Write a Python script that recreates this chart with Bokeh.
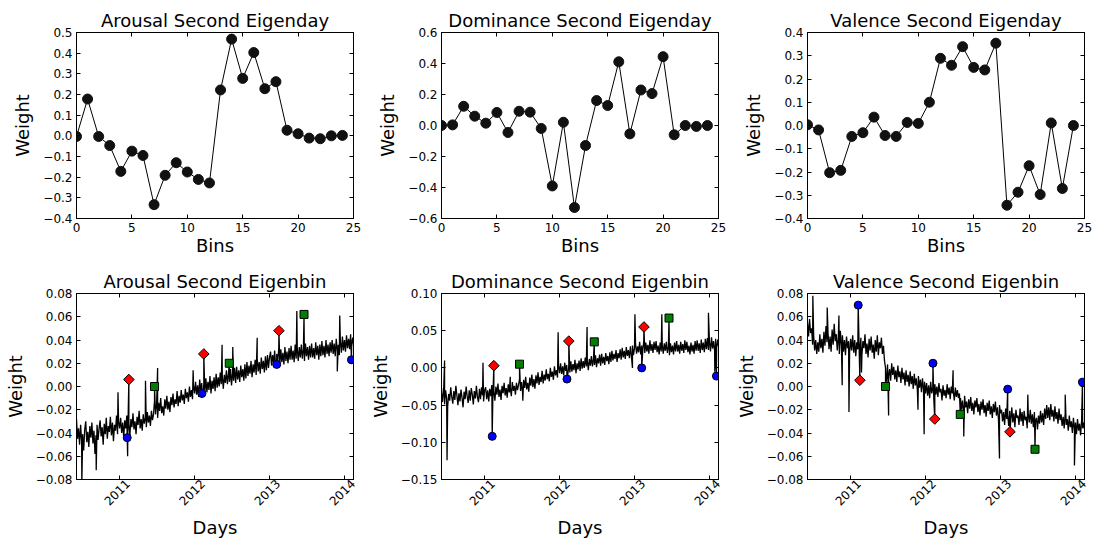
import math
import pandas as pd
from bokeh.plotting import figure
from bokeh.layouts import column, row
from bokeh.models import (Range1d, FixedTicker, LinearAxis, DatetimeAxis,
                          CustomJSTickFormatter, DatetimeTickFormatter)
from bokeh.embed import file_html
from bokeh.resources import INLINE

FONT = "DejaVu Sans"

# ---------------- top row data: second eigenday weights per bin ----------------
bins = list(range(25))
arousal_day = [-0.003, 0.178, -0.003, -0.047, -0.172, -0.074, -0.095, -0.333, -0.191, -0.130,
               -0.175, -0.211, -0.228, 0.222, 0.468, 0.278, 0.403, 0.228, 0.262, 0.027,
               0.010, -0.011, -0.014, 0.000, 0.002]
dominance_day = [0.000, 0.004, 0.124, 0.060, 0.015, 0.084, -0.045, 0.092, 0.086, -0.019,
                 -0.390, 0.021, -0.529, -0.129, 0.161, 0.129, 0.411, -0.054, 0.229, 0.206,
                 0.444, -0.060, 0.000, -0.006, 0.000]
valence_day = [0.003, -0.019, -0.203, -0.193, -0.047, -0.031, 0.036, -0.043, -0.047, 0.013,
               0.009, 0.100, 0.289, 0.259, 0.339, 0.250, 0.239, 0.354, -0.343, -0.287,
               -0.173, -0.297, 0.011, -0.271, 0.000]

# ---------------- bottom row data: second eigenbin weights over days ----------------
# values read every 5 days starting 2010-06-04
series_start = "2010-06-04"
series_step = "5D"
arousal_bin = [
    -0.028, -0.045, -0.036, -0.050, -0.033, -0.047, -0.041, -0.055, -0.037, -0.030,
    -0.048, -0.039, -0.052, -0.034, -0.044, -0.031, -0.049, -0.038, -0.058, -0.042,
    -0.033, -0.046, -0.036, -0.029, -0.043, -0.035, -0.050, -0.032, -0.041, -0.027,
    -0.045, -0.034, -0.039, -0.026, -0.042, -0.031, -0.047, -0.033, -0.038, -0.025,
    -0.041, -0.030, -0.036,
    -0.027, -0.040, -0.031, -0.044, -0.029, -0.036, -0.025, -0.039, -0.032, -0.042,
    -0.028, -0.035, -0.023, -0.037, -0.030, -0.041, -0.026, -0.033, -0.021, -0.036,
    -0.028, -0.038, -0.024, -0.032, -0.027, -0.035, -0.022, -0.031, -0.025, -0.034,
    -0.021, -0.029, -0.024,
    -0.012, -0.024, -0.016, -0.027, -0.014, -0.021, -0.010, -0.023, -0.017, -0.025,
    -0.011, -0.019, -0.008, -0.020, -0.013, -0.022, -0.009, -0.016, -0.006, -0.018,
    -0.011, -0.015, -0.004, -0.017, -0.008, -0.014, -0.003, -0.012, -0.007, -0.015,
    -0.002, -0.010, -0.005, -0.013, 0.000, -0.009, -0.003, -0.011, 0.001, -0.006,
    0.004, -0.007, 0.001, -0.009, 0.006, -0.004, 0.003, -0.008, 0.002, -0.005,
    0.007, -0.005, 0.004, -0.003, 0.009, -0.006, 0.005, -0.002, 0.008, -0.004,
    0.011, -0.001, 0.008, 0.000, 0.012, 0.002, 0.009, -0.002, 0.010, 0.003,
    0.014, 0.002, 0.011, 0.004, 0.015, 0.001, 0.012, 0.005, 0.016, 0.003,
    0.017, 0.006, 0.014, 0.004, 0.018, 0.008, 0.015, 0.005, 0.019, 0.007,
    0.021, 0.009, 0.018, 0.011, 0.022, 0.008, 0.019, 0.012, 0.023, 0.010,
    0.024, 0.013, 0.021, 0.011, 0.025, 0.015, 0.022, 0.012, 0.026, 0.014,
    0.027, 0.016, 0.025,
    0.030, 0.018, 0.027, 0.020, 0.031, 0.017, 0.028, 0.021, 0.033, 0.019,
    0.032, 0.021, 0.029, 0.019, 0.034, 0.022, 0.030, 0.020, 0.033, 0.023,
    0.035, 0.023, 0.031, 0.021, 0.036, 0.024, 0.033, 0.022, 0.034, 0.025,
    0.036, 0.024, 0.032, 0.022, 0.037, 0.026, 0.034, 0.023, 0.035, 0.025,
    0.037, 0.025, 0.033, 0.024, 0.038, 0.027, 0.035, 0.023, 0.036, 0.026,
    0.039, 0.027, 0.035, 0.025, 0.040, 0.028, 0.036, 0.026, 0.038, 0.029,
    0.040, 0.028, 0.037, 0.026, 0.041, 0.030, 0.036, 0.027, 0.039, 0.029,
    0.043, 0.031, 0.040, 0.030, 0.044, 0.033, 0.041, 0.032, 0.045, 0.034,
    0.042, 0.036]
dominance_bin = [
    -0.027, -0.046, -0.033, -0.049, -0.030, -0.041, -0.052, -0.035, -0.044, -0.026,
    -0.039, -0.048, -0.031, -0.043, -0.024, -0.037, -0.050, -0.034, -0.045, -0.029,
    -0.040, -0.053, -0.032, -0.042, -0.025, -0.038, -0.047, -0.030, -0.044, -0.027,
    -0.036, -0.049, -0.031, -0.041, -0.024, -0.039, -0.046, -0.028, -0.042, -0.026,
    -0.037, -0.045, -0.030,
    -0.026, -0.042, -0.030, -0.045, -0.028, -0.038, -0.023, -0.040, -0.031, -0.044,
    -0.025, -0.036, -0.021, -0.039, -0.029, -0.043, -0.024, -0.034, -0.020, -0.037,
    -0.027, -0.040, -0.022, -0.033, -0.026, -0.038, -0.019, -0.031, -0.024, -0.036,
    -0.020, -0.030, -0.023,
    -0.015, -0.031, -0.019, -0.034, -0.016, -0.027, -0.012, -0.029, -0.020, -0.032,
    -0.013, -0.024, -0.009, -0.026, -0.015, -0.028, -0.010, -0.021, -0.006, -0.023,
    -0.012, -0.019, -0.004, -0.021, -0.009, -0.017, -0.002, -0.015, -0.008, -0.018,
    0.000, -0.012, -0.005, -0.016, 0.002, -0.010, -0.003, -0.013, 0.003, -0.007,
    0.006, -0.008, 0.002, -0.010, 0.007, -0.004, 0.004, -0.009, 0.003, -0.006,
    0.009, -0.005, 0.005, -0.003, 0.011, -0.007, 0.006, -0.002, 0.010, -0.004,
    0.013, -0.001, 0.009, 0.000, 0.014, 0.002, 0.010, -0.003, 0.012, 0.003,
    0.016, 0.002, 0.012, 0.004, 0.017, 0.001, 0.013, 0.006, 0.018, 0.003,
    0.019, 0.006, 0.015, 0.004, 0.020, 0.009, 0.016, 0.005, 0.021, 0.008,
    0.023, 0.010, 0.019, 0.012, 0.024, 0.008, 0.020, 0.013, 0.025, 0.011,
    0.027, 0.014, 0.023, 0.012, 0.028, 0.016, 0.024, 0.013, 0.029, 0.015,
    0.030, 0.017, 0.027,
    0.033, 0.019, 0.029, 0.021, 0.035, 0.018, 0.030, 0.022, 0.036, 0.020,
    0.034, 0.022, 0.031, 0.019, 0.037, 0.023, 0.032, 0.020, 0.035, 0.024,
    0.036, 0.021, 0.030, 0.018, 0.034, 0.022, 0.031, 0.019, 0.033, 0.023,
    0.035, 0.020, 0.029, 0.017, 0.033, 0.021, 0.030, 0.018, 0.034, 0.022,
    0.036, 0.022, 0.031, 0.019, 0.035, 0.023, 0.032, 0.020, 0.037, 0.024,
    0.035, 0.021, 0.030, 0.018, 0.034, 0.022, 0.031, 0.019, 0.036, 0.023,
    0.037, 0.023, 0.033, 0.020, 0.038, 0.024, 0.034, 0.021, 0.039, 0.025,
    0.040, 0.024, 0.035, 0.022, 0.041, 0.026, 0.036, 0.023, 0.039, 0.027,
    0.038, 0.028]
valence_bin = [
    0.055, 0.043, 0.058, 0.046, 0.050, 0.036, 0.044, 0.031, 0.040, 0.028,
    0.038, 0.030, 0.045, 0.033, 0.041, 0.029, 0.047, 0.035, 0.052, 0.038,
    0.046, 0.032, 0.043, 0.030, 0.049, 0.036, 0.054, 0.039, 0.045, 0.031,
    0.042, 0.028, 0.048, 0.035, 0.044, 0.030, 0.040, 0.027, 0.043, 0.033,
    0.039, 0.029, 0.041,
    0.031, 0.044, 0.029, 0.040, 0.026, 0.038, 0.032, 0.046, 0.030, 0.042,
    0.027, 0.039, 0.033, 0.045, 0.028, 0.037, 0.025, 0.041, 0.031, 0.043,
    0.029, 0.036, 0.024, 0.040, 0.030, 0.044, 0.027, 0.038, 0.033, 0.042,
    0.028, 0.035, 0.022,
    0.016, 0.007, 0.019, 0.009, 0.015, 0.005, 0.020, 0.010, 0.017, 0.006,
    0.014, 0.004, 0.018, 0.008, 0.013, 0.003, 0.016, 0.006, 0.012, 0.001,
    0.014, 0.004, 0.010, 0.000, 0.013, 0.002, 0.009, -0.002, 0.011, 0.001,
    0.007, -0.003, 0.009, -0.001, 0.006, -0.005, 0.007, -0.003, 0.004, -0.006,
    0.003, -0.008, 0.001, -0.010, 0.004, -0.006, -0.001, -0.011, 0.002, -0.007,
    0.000, -0.009, 0.003, -0.005, -0.002, -0.012, 0.001, -0.008, -0.003, -0.010,
    0.002, -0.007, -0.001, -0.011, 0.000, -0.006, -0.004, -0.012, -0.001, -0.009,
    -0.003, -0.010, -0.006,
    -0.010, -0.020, -0.012, -0.022, -0.008, -0.018, -0.013, -0.023, -0.011, -0.019,
    -0.009, -0.021, -0.014, -0.024, -0.012, -0.018, -0.010, -0.022, -0.015, -0.025,
    -0.013, -0.020, -0.011, -0.023, -0.016, -0.026, -0.014, -0.021, -0.012, -0.024,
    -0.017, -0.027, -0.015, -0.022, -0.013, -0.025, -0.018, -0.028, -0.016, -0.023,
    -0.020, -0.030, -0.022, -0.033, -0.019, -0.028, -0.024, -0.034, -0.021, -0.029,
    -0.018, -0.031, -0.023, -0.035, -0.020, -0.027, -0.025, -0.033, -0.019, -0.030,
    -0.022, -0.034, -0.021, -0.029, -0.026, -0.036, -0.023, -0.031, -0.020, -0.032,
    -0.024, -0.035, -0.022, -0.030, -0.027, -0.037, -0.025, -0.032, -0.021, -0.031,
    -0.023, -0.033, -0.019, -0.028, -0.016, -0.027, -0.018, -0.029, -0.015, -0.026,
    -0.020, -0.030, -0.017, -0.028, -0.022, -0.032, -0.019, -0.029, -0.024, -0.034,
    -0.026, -0.036, -0.023, -0.033, -0.028, -0.038, -0.025, -0.035, -0.030, -0.040,
    -0.027, -0.037, -0.031, -0.041, -0.028, -0.038, -0.032, -0.042, -0.029, -0.036,
    -0.031, -0.038]

# isolated single-day spikes (date, value)
arousal_spike_dates = ["2010-06-30", "2010-09-08", "2010-12-23", "2011-02-08", "2011-05-06",
                       "2011-07-04", "2011-12-24", "2012-05-13", "2012-07-04", "2012-10-31",
                       "2013-05-12", "2013-11-25", "2013-12-07"]
arousal_spike_vals = [-0.085, -0.072, -0.005, -0.060, 0.005, 0.016, 0.014, 0.036, 0.034,
                      0.042, 0.065, 0.013, 0.061]
dominance_spike_dates = ["2010-06-19", "2010-07-01", "2010-12-23", "2011-05-05", "2011-07-05",
                         "2011-12-24", "2012-05-13", "2012-12-20", "2013-01-01", "2013-05-12",
                         "2013-12-25", "2014-01-25"]
dominance_spike_vals = [0.010, -0.124, 0.007, -0.012, -0.044, 0.048, 0.055, 0.000, 0.072,
                        0.072, 0.074, -0.005]
valence_spike_dates = ["2010-06-30", "2010-09-08", "2010-11-04", "2010-11-20", "2010-12-23",
                       "2011-02-22", "2011-07-04", "2011-11-24", "2011-12-24", "2012-05-13",
                       "2012-07-04", "2012-12-25", "2013-05-12", "2013-11-10", "2013-12-25"]
valence_spike_vals = [0.078, 0.068, 0.061, 0.001, -0.022, 0.012, -0.025, -0.020, -0.041,
                      0.014, -0.043, -0.062, -0.007, -0.007, -0.068]

# special days
superbowl_dates = ["2011-02-06", "2012-02-05", "2013-02-03", "2014-02-02"]
valentine_dates = ["2011-02-14", "2012-02-14", "2013-02-14"]
fathers_dates = ["2011-06-19", "2012-06-17", "2013-06-16"]
arousal_sb = [-0.044, -0.006, 0.019, 0.023]
arousal_vd = [0.006, 0.028, 0.048]
arousal_fd = [0.000, 0.020, 0.062]
dominance_sb = [-0.092, -0.015, 0.000, -0.011]
dominance_vd = [0.003, 0.036, 0.055]
dominance_fd = [0.005, 0.035, 0.067]
valence_sb = [0.070, 0.020, -0.0023, 0.0037]
valence_vd = [0.0054, -0.028, -0.039]
valence_fd = [0.000, -0.024, -0.054]

year_ticks = [2011, 2012, 2013, 2014]
x_start = "2010-06-04"
x_end = "2014-02-12"
# Bokeh right-aligns 45-degree labels at their anchor; anchoring each year label
# this far to the right of its tick centres the rotated text under the tick
label_shift = pd.Timedelta(days=39)


def yfmt(digits):
    return CustomJSTickFormatter(code="""
        const v = Math.abs(tick) < 1e-9 ? 0 : tick;
        return v.toFixed(%d).replace('-', '\\u2212');
    """ % digits)


def hide_labels(ax):
    ax.major_label_text_font_size = "1px"
    ax.major_label_text_color = None
    ax.major_label_standoff = 0


def text_style(ax):
    ax.major_label_text_font = FONT
    ax.major_label_text_font_size = "12px"
    ax.major_label_text_color = "black"
    ax.axis_label_text_font = FONT
    ax.axis_label_text_font_size = "18px"
    ax.axis_label_text_font_style = "normal"
    ax.axis_label_text_color = "black"


def style_axes(p, xlabel, yticks, ydigits, xticker, datetime=False):
    p.toolbar_location = None
    p.outline_line_color = "black"
    p.outline_line_alpha = 1
    p.outline_line_width = 1
    p.xgrid.grid_line_color = None
    p.ygrid.grid_line_color = None
    p.background_fill_color = "white"
    p.border_fill_color = "white"
    p.title.text_font = FONT
    p.title.text_font_size = "18px"
    p.title.text_font_style = "normal"
    p.title.text_color = "black"
    p.title.align = "center"
    p.title.standoff = 3
    bottom = p.below[0]
    left = p.left[0]
    for ax in (bottom, left):
        ax.major_tick_in = 4
        ax.major_tick_out = 0
        ax.minor_tick_line_color = None
        ax.axis_line_color = "black"
        ax.major_tick_line_color = "black"
        ax.major_label_standoff = 4
        text_style(ax)
    left.ticker = FixedTicker(ticks=yticks)
    left.formatter = yfmt(ydigits)
    left.axis_label = "Weight"
    left.axis_label_standoff = 7
    bottom.ticker = xticker
    bottom.axis_label = xlabel
    bottom.axis_label_standoff = 0
    # mirrored tick marks on top and right (no labels drawn)
    top = DatetimeAxis() if datetime else LinearAxis()
    top.ticker = xticker
    right = LinearAxis(ticker=FixedTicker(ticks=yticks))
    for ax in (top, right):
        ax.major_tick_in = 4
        ax.major_tick_out = 0
        ax.minor_tick_line_color = None
        ax.axis_line_color = "black"
        ax.major_tick_line_color = "black"
        hide_labels(ax)
        ax.axis_label = None
    p.add_layout(top, "above")
    p.add_layout(right, "right")
    return bottom


def top_fig(title, vals, ylo, yhi, yticks, width, left):
    p = figure(width=width, height=262, x_range=Range1d(0, 25), y_range=Range1d(ylo, yhi),
               output_backend="svg", toolbar_location=None, title=title,
               min_border_left=left, min_border_right=12, min_border_top=32,
               min_border_bottom=44)
    style_axes(p, "Bins", yticks, 1, FixedTicker(ticks=[0, 5, 10, 15, 20, 25]))
    p.line(bins, vals, line_color="black", line_width=1)
    p.scatter(bins, vals, size=10, fill_color="#111111", line_color="#111111")
    return p


def build_series(base_vals, spike_dates, spike_vals, sb, vd, fd):
    base = pd.DataFrame({"d": pd.date_range(series_start, periods=len(base_vals),
                                            freq=series_step), "v": base_vals})
    extra = pd.DataFrame({"d": pd.to_datetime(spike_dates + superbowl_dates + valentine_dates
                                              + fathers_dates),
                          "v": spike_vals + sb + vd + fd})
    return pd.concat([base, extra]).sort_values("d")


def bottom_fig(title, base_vals, spike_dates, spike_vals, sb, vd, fd, ylo, yhi, yticks,
               width, left):
    p = figure(width=width, height=279, x_axis_type="datetime",
               x_range=Range1d(pd.Timestamp(x_start), pd.Timestamp(x_end)),
               y_range=Range1d(ylo, yhi), output_backend="svg", toolbar_location=None,
               title=title, min_border_left=left, min_border_right=12, min_border_top=31,
               min_border_bottom=62)
    year_starts = [pd.Timestamp(f"{y}-01-01") for y in year_ticks]
    ticks = [t.value // 10**6 for t in year_starts]
    bottom = style_axes(p, None, yticks, 2, FixedTicker(ticks=ticks), datetime=True)
    hide_labels(bottom)
    # label-only axis carrying the rotated year labels and the "Days" title
    lab = DatetimeAxis(ticker=FixedTicker(ticks=[(t + label_shift).value // 10**6
                                                 for t in year_starts]),
                       formatter=DatetimeTickFormatter(years="%Y", months="%Y", days="%Y"))
    text_style(lab)
    lab.axis_line_color = None
    lab.major_tick_line_color = None
    lab.minor_tick_line_color = None
    lab.major_tick_in = 0
    lab.major_tick_out = 0
    lab.major_label_standoff = 2
    lab.major_label_orientation = math.pi / 4
    lab.axis_label = "Days"
    lab.axis_label_standoff = 5
    p.add_layout(lab, "below")
    s = build_series(base_vals, spike_dates, spike_vals, sb, vd, fd)
    p.line(s["d"], s["v"], line_color="black", line_width=1.3)
    p.scatter(pd.to_datetime(superbowl_dates), sb, marker="circle", size=8,
              fill_color="blue", line_color="black")
    p.scatter(pd.to_datetime(fathers_dates), fd, marker="square", size=8,
              fill_color="green", line_color="black")
    p.scatter(pd.to_datetime(valentine_dates), vd, marker="square", angle=math.pi / 4,
              size=7.5, fill_color="red", line_color="black")
    return p


t1 = top_fig("Arousal Second Eigenday", arousal_day, -0.4, 0.5,
             [-0.4, -0.3, -0.2, -0.1, 0.0, 0.1, 0.2, 0.3, 0.4, 0.5], 365, 76)
t2 = top_fig("Dominance Second Eigenday", dominance_day, -0.6, 0.6,
             [-0.6, -0.4, -0.2, 0.0, 0.2, 0.4, 0.6], 365, 76)
t3 = top_fig("Valence Second Eigenday", valence_day, -0.4, 0.4,
             [-0.4, -0.3, -0.2, -0.1, 0.0, 0.1, 0.2, 0.3, 0.4], 366, 77)

yt_av = [-0.08, -0.06, -0.04, -0.02, 0.0, 0.02, 0.04, 0.06, 0.08]
b1 = bottom_fig("Arousal Second Eigenbin", arousal_bin, arousal_spike_dates, arousal_spike_vals,
                arousal_sb, arousal_vd, arousal_fd, -0.08, 0.08, yt_av, 365, 76)
b2 = bottom_fig("Dominance Second Eigenbin", dominance_bin, dominance_spike_dates,
                dominance_spike_vals, dominance_sb, dominance_vd, dominance_fd, -0.15, 0.10,
                [-0.15, -0.10, -0.05, 0.0, 0.05, 0.10], 365, 76)
b3 = bottom_fig("Valence Second Eigenbin", valence_bin, valence_spike_dates, valence_spike_vals,
                valence_sb, valence_vd, valence_fd, -0.08, 0.08, yt_av, 366, 77)

layout = column(row(t1, t2, t3), row(b1, b2, b3))
open("out.html", "w").write(file_html(layout, INLINE))
